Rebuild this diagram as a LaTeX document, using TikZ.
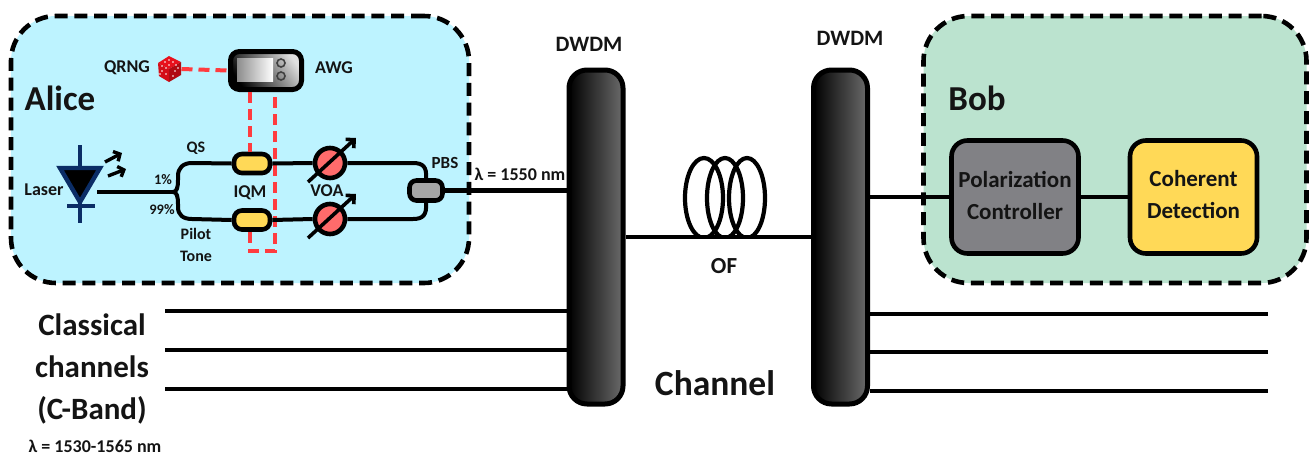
\documentclass[tikz,border=0pt]{standalone}
\usepackage{fontspec}
\setmainfont{Carlito}
\usetikzlibrary{arrows.meta}
\newcommand\fz[2]{\fontsize{#1}{#2}\selectfont\bfseries}
\definecolor{alicebg}{HTML}{BDF3FF}
\definecolor{bobbg}{HTML}{BBE3CF}
\definecolor{redline}{HTML}{FF3B3F}
\definecolor{voared}{HTML}{FF6B6B}
\definecolor{boxyellow}{HTML}{FFD957}
\definecolor{pcgray}{HTML}{818185}
\definecolor{pbsgray}{HTML}{A6A6A6}
\definecolor{navy}{HTML}{0B2D66}
\definecolor{dicetop}{HTML}{E8101C}
\definecolor{diceleft}{HTML}{D40D18}
\definecolor{diceright}{HTML}{B00A12}
\tikzset{
  lab/.style={inner sep=0pt,outer sep=0pt,text=black!92,align=center},
  party/.style={draw=black,line width=4.6pt,dash pattern=on 13pt off 6.8pt,rounded corners=45pt,inner sep=0pt,outer sep=0pt},
  dwdmbar/.style={draw=black,line width=5pt,rounded corners=18pt,left color=black,right color=black!58,minimum width=54pt,minimum height=334pt,inner sep=0pt,outer sep=2.5pt},
  fiber/.style={draw=black,line width=4pt},
  trunk/.style={draw=black,line width=4.6pt},
  ctrl/.style={draw=redline,line width=4pt,dash pattern=on 11pt off 6pt},
  mzm/.style={draw=black,line width=4.6pt,rounded corners=8pt,fill=boxyellow,minimum width=36pt,minimum height=19pt,inner sep=0pt,outer sep=2.3pt},
  voa/.style={circle,draw=black,line width=4.6pt,fill=voared,minimum size=30pt,inner sep=0pt,outer sep=2.3pt},
  voaarrow/.style={draw=black,line width=3.6pt,-{Straight Barb[length=6pt,width=12pt,line width=3.6pt]}},
  module/.style={draw=black,line width=4.6pt,rounded corners=16pt,minimum width=127pt,minimum height=113pt,inner sep=0pt,outer sep=2.3pt},
}
\begin{document}
\begin{tikzpicture}[x=1pt,y=-1pt]
\path[use as bounding box,fill=white] (0,0) rectangle (1309,456);

% parties
\node[party,fill=alicebg,minimum width=458pt,minimum height=267pt] (alice) at (240,149.5) {};
\node[party,fill=bobbg,minimum width=383pt,minimum height=267pt] (bob) at (1115,149.5) {};
\node[lab,font=\fz{35}{35}] (alicelab) at (60,98) {Alice};
\node[lab,font=\fz{35}{35}] (boblab) at (977,98) {Bob};

% DWDM
\node[dwdmbar] (dwdm1) at (596,237) {};
\node[dwdmbar] (dwdm2) at (840.5,237) {};
\node[lab,font=\fz{22}{22}] (dwdm1lab) at (589,44) {DWDM};
\node[lab,font=\fz{22}{22}] (dwdm2lab) at (850,38) {DWDM};

% Bob modules
\node[module,fill=pcgray] (pc) at (1015,197) {};
\node[module,fill=boxyellow] (cd) at (1193.5,197) {};
\node[lab,font=\fz{23}{32}] (pclab) at (1015,195) {Polarization\\Controller};
\node[lab,font=\fz{23}{32}] (cdlab) at (1193.5,195) {Coherent\\Detection};
\draw[trunk] (dwdm2.east |- pc.west) -- (pc.west);
\draw[trunk] (pc.east) -- (cd.west);

% channel
\draw[trunk] (dwdm1.east) -- (dwdm2.west);
\begin{scope}
  \clip (675,150) rectangle (775,237);
  \draw[line width=4.2pt] (704,198) ellipse [x radius=19,y radius=40];
  \draw[line width=4.2pt] (725,198) ellipse [x radius=18,y radius=40];
  \draw[line width=4.2pt] (747,198) ellipse [x radius=18,y radius=40];
\end{scope}
\node[lab,font=\fz{23}{23}] (oflab) at (724,266) {OF};
\node[lab,font=\fz{35.5}{35.5}] (chlab) at (715,383) {Channel};

% classical channels
\coordinate (cl1) at (165,311);
\coordinate (cl2) at (165,350);
\coordinate (cl3) at (165,389);
\coordinate (cr1) at (1268,314);
\coordinate (cr2) at (1268,352);
\coordinate (cr3) at (1268,391);
\foreach \n in {1,2,3} {
  \draw[trunk] (cl\n) -- (cl\n -| dwdm1.west);
  \draw[trunk] (cr\n) -- (cr\n -| dwdm2.east);
}
\node[lab,font=\fz{31}{42}] (classlab) at (92,369) {Classical\\channels\\(C-Band)};
\node[lab,font=\fz{18}{18}] (bandlab) at (95,446) {λ = 1530-1565 nm};

% AWG
\node[draw=black,line width=5pt,rounded corners=9pt,minimum width=71pt,minimum height=38pt,inner sep=0pt,outer sep=2.5pt,
      left color=black,right color=black!12,shading angle=125] (awg) at (266,70.5) {};
\node[draw=none,left color=black!45,right color=white,minimum width=36pt,minimum height=23pt,inner sep=0pt] (screen) at (255,69.5) {};
\node[circle,draw=black!75,line width=1.6pt,minimum size=8pt,inner sep=0pt] (knob1) at (281,63) {};
\node[circle,draw=black!75,line width=1.6pt,minimum size=8pt,inner sep=0pt] (knob2) at (281,76) {};
\node[lab,font=\fz{18}{18}] (awglab) at (334,68) {AWG};

% QRNG dice
\node[circle,minimum size=24pt,inner sep=0pt,outer sep=0pt] (dice) at (169.5,69) {};
\fill[dicetop] (169,56) -- (181,62) -- (169,69) -- (158,63) -- cycle;
\fill[diceleft] (158,63) -- (169,69) -- (169,82) -- (159,76) -- cycle;
\fill[diceright] (181,62) -- (181,75) -- (169,82) -- (169,69) -- cycle;
\foreach \p in {(169,60),(165,62),(173,62),(169,65),(176,65),(162,66),(162,71),(166,74),(160,74),(166,68),(175,71),(173,76),(178,68)}
  \fill[white] \p circle (0.9);
\node[lab,font=\fz{18}{18}] (qrnglab) at (127,68) {QRNG};
\draw[ctrl] (dice.east) -- (awg.west);

% modulators, attenuators, PBS
\node[mzm] (iqm1) at (252,163.5) {};
\node[mzm] (iqm2) at (252,220) {};
\node[voa] (voa1) at (330,163) {};
\node[voa] (voa2) at (330,219) {};
\node[draw=black,line width=4.6pt,rounded corners=7pt,fill=pbsgray,minimum width=33pt,minimum height=20pt,inner sep=0pt,outer sep=2.3pt] (pbs) at (426,190.5) {};

% red control lines
\coordinate (rb1) at (250,251);
\coordinate (rb2) at (275,251);
\draw[ctrl] (rb1 |- awg.south) -- (rb1 |- iqm1.north);
\draw[ctrl] (rb1 |- iqm2.south) -- (rb1) -- (rb2) -- (rb2 |- awg.south);

% laser
\coordinate (anodetop) at (80,145);
\coordinate (cathode) at (80,223);
\draw[navy,line width=3.4pt] (anodetop) -- (cathode);
\draw[navy,line width=3.4pt] (67,206) -- (95,206);
\draw[navy,line width=4.4pt,fill=black,line join=miter] (60,168) -- (100,168) -- (80,202) -- cycle;
\draw[black,line width=3.4pt,-{Straight Barb[length=5pt,width=11pt,line width=3.4pt]}] (105,162) -- (122,153);
\draw[black,line width=3.4pt,-{Straight Barb[length=5pt,width=11pt,line width=3.4pt]}] (108,176) -- (126,169);
\node[lab,font=\fz{18}{18}] (laserlab) at (44,190) {Laser};

% fibres
\coordinate (laserout) at (97,192);
\coordinate (split) at (173,192);
\draw[fiber] (laserout) -- (split);
\draw[fiber] (split) .. controls (177,192) and (178,187) .. (178,180) -- (178,176) .. controls (178,168) and (183,163) .. (192,163) -- (iqm1.west);
\draw[fiber] (split) .. controls (177,192) and (178,197) .. (178,204) -- (178,207) .. controls (178,215) and (183,219) .. (192,219) -- (iqm2.west);
\draw[fiber] (iqm1.east) -- (voa1.west);
\draw[fiber] (iqm2.east) -- (voa2.west);
\draw[fiber] (voa1.east) -- (413,163) .. controls (423,163) and (427,167) .. (pbs.north);
\draw[fiber] (voa2.east) -- (413,219) .. controls (423,219) and (427,215) .. (pbs.south);
\draw[trunk] (pbs.east) -- (pbs.east -| dwdm1.west);
\draw[voaarrow] ([shift={(-22,19)}]voa1.center) -- ([shift={(26,-25)}]voa1.center);
\draw[voaarrow] ([shift={(-22,19)}]voa2.center) -- ([shift={(26,-25)}]voa2.center);

% small labels
\node[lab,font=\fz{16}{16}] (qslab) at (196,148) {QS};
\node[lab,font=\fz{14.5}{14.5}] (onepct) at (163,180) {1\%};
\node[lab,font=\fz{14.5}{14.5}] (ninetynine) at (162,210) {99\%};
\node[lab,font=\fz{18}{18}] (iqmlab) at (250,193) {IQM};
\node[lab,font=\fz{16}{22}] (pilotlab) at (196,245) {Pilot\\Tone};
\node[lab,font=\fz{18}{18}] (voalab) at (327,191) {VOA};
\node[lab,font=\fz{17}{17}] (pbslab) at (445,163) {PBS};
\node[lab,font=\fz{18}{18}] (lamlab) at (520,174) {λ = 1550 nm};
\end{tikzpicture}
\end{document}
